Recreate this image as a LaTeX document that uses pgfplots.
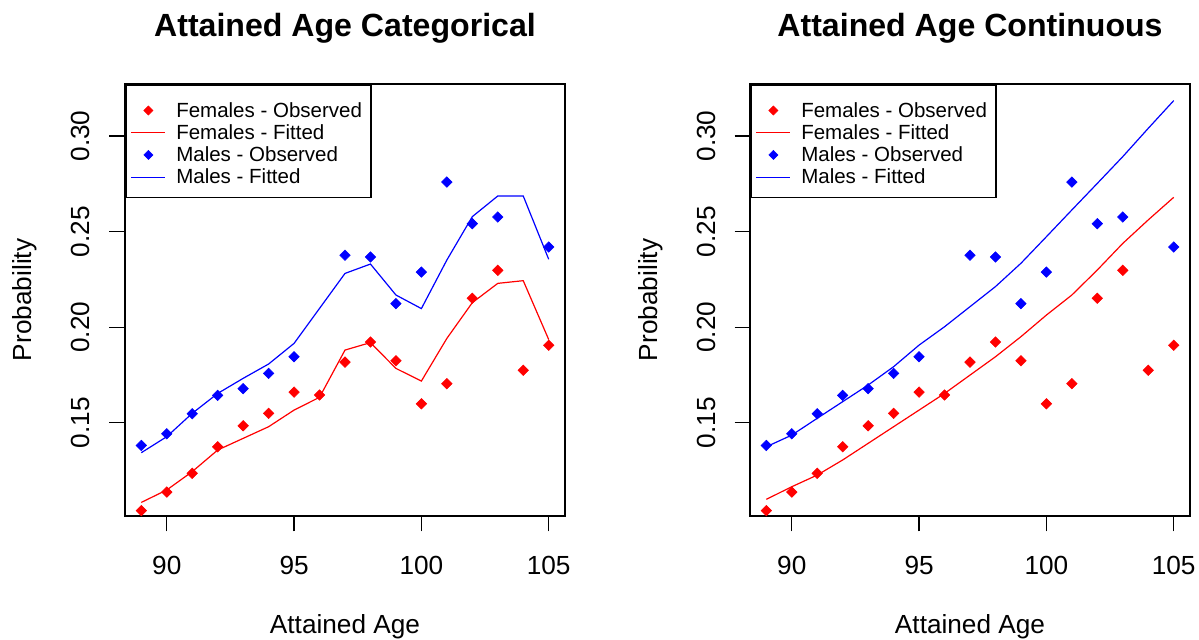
\documentclass[border=0pt]{standalone}
\usepackage{fontspec}
\setmainfont{Liberation Sans}
\usepackage{pgfplots}
\pgfplotsset{compat=1.18}
\usepackage{pgfplotstable}

\definecolor{rred}{RGB}{255,0,0}
\definecolor{rblue}{RGB}{0,0,255}

% observed probabilities
\pgfplotstableread{
age p
89 0.1040
90 0.1137
91 0.1235
92 0.1374
93 0.1484
94 0.1549
95 0.1660
96 0.1645
97 0.1817
98 0.1922
99 0.1824
100 0.1599
101 0.1704
102 0.2151
103 0.2297
104 0.1774
105 0.1905
}\femobs

\pgfplotstableread{
age p
89 0.1381
90 0.1442
91 0.1547
92 0.1643
93 0.1678
94 0.1758
95 0.1845
97 0.2376
98 0.2367
99 0.2123
100 0.2288
101 0.2759
102 0.2541
103 0.2576
105 0.2419
}\malobs

% fitted, age categorical
\pgfplotstableread{
age p
89 0.1083
90 0.1148
91 0.1244
92 0.1357
93 0.1418
94 0.1479
95 0.1566
96 0.1633
97 0.1880
98 0.1919
99 0.1784
100 0.1718
101 0.1941
102 0.2128
103 0.2229
104 0.2243
105 0.1935
}\femcat

\pgfplotstableread{
age p
89 0.1343
90 0.1427
91 0.1549
92 0.1653
93 0.1732
94 0.1807
95 0.1915
96 0.2098
97 0.2281
98 0.2330
99 0.2168
100 0.2097
101 0.2351
102 0.2578
103 0.2686
104 0.2686
105 0.2355
}\malcat

% fitted, age continuous
\pgfplotstableread{
age p
89 0.1099
90 0.1165
91 0.1226
92 0.1305
93 0.1392
94 0.1479
95 0.1566
96 0.1653
97 0.1749
98 0.1845
99 0.1950
100 0.2063
101 0.2168
102 0.2299
103 0.2438
104 0.2561
105 0.2679
}\femcon

\pgfplotstableread{
age p
89 0.1374
90 0.1435
91 0.1523
92 0.1610
93 0.1697
94 0.1793
95 0.1906
96 0.2002
97 0.2107
98 0.2212
99 0.2334
100 0.2473
101 0.2613
102 0.2752
103 0.2892
104 0.3040
105 0.3185
}\malcon

\pgfplotsset{
  rpanel/.style={
    scale only axis, width=220pt, height=215.9pt,
    xmin=88.36, xmax=105.64, ymin=0.1013, ymax=0.3272,
    clip=false,
    xtick={90,95,100,105}, xticklabels={90,95,100,105},
    ytick={0.15,0.20,0.25,0.30}, yticklabels={0.15,0.20,0.25,0.30},
    xtick pos=bottom, ytick pos=left,
    tick align=outside, major tick length=7.75pt,
    tick style={black, line width=0.6pt},
    axis line style={black, line width=0.8pt},
    /pgf/number format/assume math mode=true,
    ticklabel style={font=\fontsize{13.1}{15}\selectfont},
    xticklabel style={anchor=base, yshift=-21.55pt},
    yticklabel style={xshift=-9.75pt, rotate=90, anchor=base},
    every axis title/.style={at={(axis description cs:0.5,1.10885)}, anchor=base,
      font=\bfseries\fontsize{16.05}{18}\selectfont},
    every axis x label/.style={at={(axis description cs:0.5,-0.27327)}, anchor=base,
      font=\fontsize{13.1}{15}\selectfont},
    every axis y label/.style={at={(axis description cs:-0.21136,0.5)}, rotate=90, anchor=base,
      font=\fontsize{13.1}{15}\selectfont},
    xlabel={Attained Age}, ylabel={Probability},
    legend cell align=left,
    legend style={at={(axis description cs:0,1)}, anchor=north west,
      draw=black, line width=0.8pt, fill=white,
      inner xsep=2.5pt, inner ysep=3.85pt, row sep=-4.25pt, column sep=3.15pt,
      nodes={inner xsep=2pt, inner ysep=0pt, text height=12.35pt, text depth=3pt},
      font=\fontsize{10.25}{11}\selectfont},
  },
  obs/.style={only marks, color=#1, mark=square*, mark size=1.85pt,
    mark options={rotate=45, fill=#1, draw=#1, line width=0.3pt},
    legend image code/.code={\draw[##1, mark repeat=2, mark phase=2, mark size=1.6pt]
      plot coordinates {(0pt,-1.35pt) (8.5pt,-1.35pt) (17pt,-1.35pt)};}},
  fit/.style={no markers, color=#1, line width=0.6pt,
    legend image code/.code={\draw[##1] (0pt,-1.35pt) -- (17pt,-1.35pt);}},
}

\begin{document}
\begin{tikzpicture}
\useasboundingbox (0,0) rectangle (599.5pt,320pt);

\begin{axis}[rpanel, at={(62.5pt,62.1pt)}, anchor=south west,
  title={Attained Age Categorical}]
  \addplot[obs=rred] table[x=age, y=p] {\femobs};
  \addlegendentry{Females - Observed\hspace{5pt}}
  \addplot[fit=rred] table[x=age, y=p] {\femcat};
  \addlegendentry{Females - Fitted}
  \addplot[obs=rblue] table[x=age, y=p] {\malobs};
  \addlegendentry{Males - Observed}
  \addplot[fit=rblue] table[x=age, y=p] {\malcat};
  \addlegendentry{Males - Fitted}
\end{axis}

\begin{axis}[rpanel, at={(375pt,62.1pt)}, anchor=south west,
  title={Attained Age Continuous}]
  \addplot[obs=rred] table[x=age, y=p] {\femobs};
  \addlegendentry{Females - Observed\hspace{5pt}}
  \addplot[fit=rred] table[x=age, y=p] {\femcon};
  \addlegendentry{Females - Fitted}
  \addplot[obs=rblue] table[x=age, y=p] {\malobs};
  \addlegendentry{Males - Observed}
  \addplot[fit=rblue] table[x=age, y=p] {\malcon};
  \addlegendentry{Males - Fitted}
\end{axis}
\end{tikzpicture}
\end{document}
